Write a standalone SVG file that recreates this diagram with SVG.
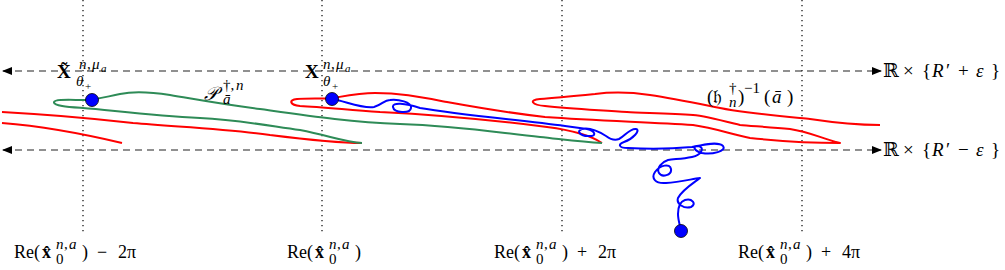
<svg xmlns="http://www.w3.org/2000/svg" width="1005" height="270" viewBox="0 0 1005 270">
<style>
.m{font-family:"Liberation Serif","DejaVu Serif",serif;font-size:18px;fill:#000}
.i{font-style:italic}
.b{font-weight:bold}
.s{font-size:15px}
.ss{font-size:11px}
.big{font-size:19px}
.dot{stroke:#000;stroke-width:1.2;stroke-dasharray:1.3 3.7;fill:none}
.dash{stroke:#222;stroke-width:1.2;stroke-dasharray:7 5;fill:none}
.red{stroke:#ff0000;stroke-width:2;fill:none;stroke-linejoin:round}
.grn{stroke:#2e8b57;stroke-width:2;fill:none;stroke-linejoin:round}
.blu{stroke:#0000ff;stroke-width:2;fill:none;stroke-linejoin:round}
.pt{fill:#0000ff;stroke:#000;stroke-width:0.8}
</style>
<defs>
<marker id="ah" viewBox="0 0 10 8" refX="9" refY="4" markerWidth="10" markerHeight="8" markerUnits="userSpaceOnUse" orient="auto-start-reverse">
<path d="M0,0 L10,4 L0,8 Z" fill="#000"/>
</marker>
</defs>
<g id="grid">
<line class="dot" x1="83" y1="0" x2="83" y2="234"/>
<line class="dot" x1="322" y1="0" x2="322" y2="234"/>
<line class="dot" x1="562" y1="0" x2="562" y2="234"/>
<line class="dot" x1="802" y1="0" x2="802" y2="234"/>
</g>
<g id="connectors">
<line class="dash" x1="3" y1="71" x2="881" y2="71" marker-start="url(#ah)" marker-end="url(#ah)"/>
<line class="dash" x1="3" y1="150" x2="881" y2="150" marker-start="url(#ah)" marker-end="url(#ah)"/>
</g>
<g id="red-curves">
<path class="red" d="M2,112 C40,114 80,117 133,123 C180,127 230,129 270,135 C310,140 340,143 362,143"/>
<path class="red" d="M2,123 C40,126 80,133 122,143"/>
<path class="red" d="M602,143 C590,135 570,130 547,127 C500,121 440,115 380,112 C340,109 320,107 300,106 C290,105 288,100 297,99 C310,98 320,99 333,98 C345,96 360,93 375,93 C400,93 420,97 447,102 C480,108 510,113 545,117 C600,121 650,122 693,125 C715,128 730,134 750,138 C790,142 820,143 840,143 C820,138 810,132 790,129 C770,127 750,126 740,125 C720,120 705,116 693,115 C670,113 640,113 627,112 C600,110 570,109 545,106 C532,105 528,100 540,99 C555,98 575,96 595,94 C610,92 630,92 650,95 C670,98 690,102 710,106 C740,113 790,117 810,119 C830,122 850,125 880,125"/>
</g>
<g id="path-P">
<path class="grn" d="M602,143 C580,142 560,139 540,137 C500,133 460,126 400,124 C350,122 310,116 260,109 C220,104 200,100 170,95 C150,92 135,91 120,94 C105,97 95,100 85,100 C70,100 55,99 54,102 C53,106 70,107 83,108 C110,110 150,116 200,118 C240,120 270,126 300,130 C330,136 345,142 362,143"/>
</g>
<g id="path-blue">
<path class="blu" d="M332,99 C345,101 362,109 374,107 C382,105 384,100 390,100 C398,99 412,102 411,108 C410,114 394,113 393,107 C392,102 405,103 420,108 C460,115 520,120 565,126 C572,127 580,128 587,129 C596,131 597,137 588,136 C580,136 576,131 582,129 C590,127 598,131 606,136 C610,139 614,141 619,139 C625,136 630,128 636,129 C641,130 633,139 624,142 C618,144 618,148 628,148 C645,149 670,149 692,147 C702,145 718,141 723,146 C727,151 712,155 702,153 C694,151 692,146 698,146 C705,147 702,155 692,157 C682,159 674,159 668,160 C662,162 656,168 659,173 C662,178 672,175 671,169 C670,163 660,165 655,172 C651,178 655,184 666,183 C680,182 692,179 700,178 C692,184 682,190 678,198 C676,204 684,209 691,207 C697,204 692,198 685,200 C679,202 678,208 678,214 C678,220 680,225 681,231"/>
</g>
<g id="point-Xtilde"><circle class="pt" cx="92" cy="100" r="6.5"/></g>
<g id="point-X"><circle class="pt" cx="332" cy="99" r="6.5"/></g>
<g id="point-end"><circle class="pt" cx="681" cy="231" r="6.5"/></g>
<g id="labels">
<text class="m"><tspan class="b big" x="57" y="78">X̃</tspan><tspan class="s i" x="79" y="69">n</tspan><tspan class="s" x="87" y="69">,</tspan><tspan class="s i" x="92" y="69">μ</tspan><tspan class="ss i" x="101" y="72">a</tspan><tspan class="s i" x="76" y="86">θ</tspan><tspan class="ss" x="85" y="90">+</tspan></text>
<text class="m"><tspan class="b big" x="305" y="78">X</tspan><tspan class="s i" x="323" y="69">n</tspan><tspan class="s" x="331" y="69">,</tspan><tspan class="s i" x="336" y="69">μ</tspan><tspan class="ss i" x="345" y="72">a</tspan><tspan class="s i" x="323" y="86">θ</tspan><tspan class="ss" x="332" y="90">+</tspan></text>
<text class="m"><tspan class="i big" x="204" y="100">𝒫</tspan><tspan class="s" x="223" y="90">†,</tspan><tspan class="s i" x="236" y="90">n</tspan><tspan class="s i" x="223" y="104">ā</tspan></text>
<text class="m big"><tspan x="707" y="103">(𝔥</tspan><tspan class="s" x="729" y="93">†</tspan><tspan class="s i" x="729" y="107">n</tspan><tspan x="738" y="103">)</tspan><tspan class="s" x="744" y="93">−1</tspan><tspan x="764" y="103">(</tspan><tspan class="i" x="772" y="103">ā</tspan><tspan x="787" y="103">)</tspan></text>
<text class="m big"><tspan x="883" y="77">ℝ</tspan><tspan x="903" y="77">×</tspan><tspan x="922" y="77">{</tspan><tspan class="i" x="932" y="77">R</tspan><tspan x="946" y="77">′</tspan><tspan x="958" y="77">+</tspan><tspan class="i" x="976" y="77">ε</tspan><tspan x="991" y="77">}</tspan></text>
<text class="m big"><tspan x="883" y="156">ℝ</tspan><tspan x="903" y="156">×</tspan><tspan x="922" y="156">{</tspan><tspan class="i" x="932" y="156">R</tspan><tspan x="946" y="156">′</tspan><tspan x="958" y="156">−</tspan><tspan class="i" x="976" y="156">ε</tspan><tspan x="991" y="156">}</tspan></text>
<text class="m"><tspan x="14" y="258">Re(</tspan><tspan class="b" x="42" y="258">x̂</tspan><tspan class="s i" x="56" y="249">n</tspan><tspan class="s" x="64" y="249">,</tspan><tspan class="s i" x="69" y="249">a</tspan><tspan class="s" x="56" y="264">0</tspan><tspan x="82" y="258">)</tspan><tspan x="97" y="258">−</tspan><tspan x="118" y="258">2π</tspan></text>
<text class="m"><tspan x="287" y="258">Re(</tspan><tspan class="b" x="315" y="258">x̂</tspan><tspan class="s i" x="329" y="249">n</tspan><tspan class="s" x="337" y="249">,</tspan><tspan class="s i" x="342" y="249">a</tspan><tspan class="s" x="329" y="264">0</tspan><tspan x="355" y="258">)</tspan></text>
<text class="m"><tspan x="494" y="258">Re(</tspan><tspan class="b" x="522" y="258">x̂</tspan><tspan class="s i" x="536" y="249">n</tspan><tspan class="s" x="544" y="249">,</tspan><tspan class="s i" x="549" y="249">a</tspan><tspan class="s" x="536" y="264">0</tspan><tspan x="562" y="258">)</tspan><tspan x="577" y="258">+</tspan><tspan x="598" y="258">2π</tspan></text>
<text class="m"><tspan x="738" y="258">Re(</tspan><tspan class="b" x="766" y="258">x̂</tspan><tspan class="s i" x="780" y="249">n</tspan><tspan class="s" x="788" y="249">,</tspan><tspan class="s i" x="793" y="249">a</tspan><tspan class="s" x="780" y="264">0</tspan><tspan x="806" y="258">)</tspan><tspan x="821" y="258">+</tspan><tspan x="842" y="258">4π</tspan></text>
</g>
</svg>
